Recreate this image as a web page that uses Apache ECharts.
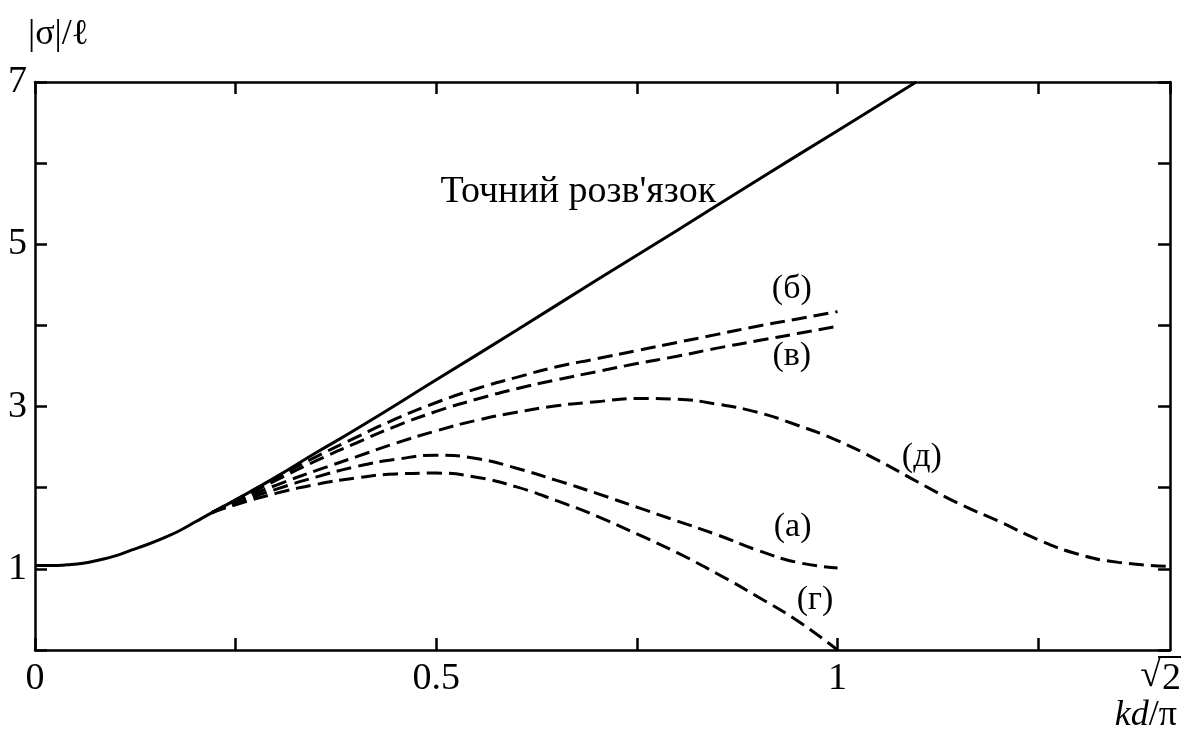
<!DOCTYPE html>
<html>
<head>
<meta charset="utf-8">
<script src="https://cdn.jsdelivr.net/npm/echarts@6/dist/echarts.min.js"></script>
<style>
  html, body { margin: 0; padding: 0; background: #fff; }
  #chart { width: 1185px; height: 735px; }
</style>
</head>
<body>
<div id="chart"></div>
<script>
const SQRT2 = Math.SQRT2;

// Exact solution |σ|/ℓ versus kd/π
const exactX = [0, 0.02, 0.04, 0.06, 0.08, 0.10, 0.12, 0.14, 0.16, 0.18, 0.20, 0.22, 0.25, 0.30, 0.35, 0.40, 0.50, 0.60, 0.70, 0.80, 0.90, 1.00, 1.098];
const exactY = [1.04, 1.04, 1.05, 1.07, 1.11, 1.16, 1.23, 1.30, 1.38, 1.47, 1.58, 1.69, 1.85, 2.13, 2.43, 2.72, 3.33, 3.94, 4.56, 5.17, 5.79, 6.40, 7.0];

// Approximations (а)–(г), defined for kd/π from 0.22 to 1
const approxX = [0.22, 0.25, 0.30, 0.35, 0.40, 0.45, 0.50, 0.55, 0.60, 0.65, 0.70, 0.75, 0.80, 0.85, 0.90, 0.95, 1.00];
const curveA  = [1.69, 1.81, 1.98, 2.13, 2.26, 2.35, 2.40, 2.36, 2.24, 2.09, 1.93, 1.76, 1.59, 1.42, 1.23, 1.08, 1.01];
const curveB  = [1.69, 1.85, 2.12, 2.38, 2.62, 2.85, 3.05, 3.22, 3.36, 3.49, 3.59, 3.69, 3.79, 3.89, 3.99, 4.08, 4.17];
const curveV  = [1.69, 1.84, 2.09, 2.33, 2.55, 2.76, 2.94, 3.09, 3.22, 3.33, 3.43, 3.53, 3.62, 3.72, 3.81, 3.90, 3.99];
const curveG  = [1.69, 1.79, 1.93, 2.04, 2.12, 2.17, 2.18, 2.13, 2.01, 1.84, 1.65, 1.43, 1.20, 0.94, 0.66, 0.36, 0.00];

// Approximation (д), defined up to kd/π = √2
const curveDX = [0.22, 0.25, 0.30, 0.35, 0.40, 0.45, 0.50, 0.55, 0.60, 0.65, 0.70, 0.75, 0.80, 0.85, 0.90, 0.95, 1.00, 1.05, 1.10, 1.15, 1.20, 1.25, 1.30, 1.35, SQRT2];
const curveDY = [1.69, 1.83, 2.03, 2.21, 2.38, 2.55, 2.70, 2.83, 2.93, 3.01, 3.06, 3.10, 3.09, 3.03, 2.93, 2.77, 2.58, 2.34, 2.07, 1.81, 1.59, 1.36, 1.18, 1.08, 1.03];

// Tick labels
const xLabelValues = [0, 0.5, 1];
const xLabelTexts = ['0', '0.5', '1'];
const yLabelValues = [1, 3, 5, 7];

// Curve captions, anchored in data coordinates
const captionTexts = ['Точний розв\'язок', '(б)', '(в)', '(а)', '(г)', '(д)'];
const captionX = [0.677, 0.943, 0.943, 0.944, 0.972, 1.105];
const captionY = [5.65, 4.45, 3.62, 1.52, 0.62, 2.38];

const FONT = '"Liberation Serif", "DejaVu Serif", serif';

function zip(xs, ys) { return xs.map((x, i) => [x, ys[i]]); }

const axisLineStyle = { color: '#000', width: 2.5 };
const tickStyle = { show: true, inside: true, length: 12, lineStyle: { color: '#000', width: 2.5 } };

function xLabel(v) {
  const i = xLabelValues.findIndex(t => Math.abs(t - v) < 1e-9);
  return i >= 0 ? xLabelTexts[i] : '';
}
function yLabel(v) {
  return yLabelValues.some(t => Math.abs(t - v) < 1e-9) ? String(v) : '';
}

const dashed = { color: '#000', width: 3, type: [15, 7] };

const chart = echarts.init(document.getElementById('chart'), null, { renderer: 'canvas' });

chart.setOption({
  animation: false,
  backgroundColor: '#fff',
  grid: { left: 35, right: 15, top: 82, bottom: 85, outerBoundsMode: 'none' },
  xAxis: [
    {
      type: 'value', min: 0, max: SQRT2, interval: 0.25, position: 'bottom',
      axisLine: { show: true, lineStyle: axisLineStyle },
      axisTick: tickStyle,
      splitLine: { show: false },
      axisLabel: {
        formatter: xLabel, showMaxLabel: false, showMinLabel: true,
        fontFamily: FONT, fontSize: 38, color: '#000', margin: 10
      }
    },
    {
      type: 'value', min: 0, max: SQRT2, interval: 0.25, position: 'top',
      axisLine: { show: true, onZero: false, lineStyle: axisLineStyle },
      axisTick: tickStyle,
      splitLine: { show: false },
      axisLabel: { show: false }
    }
  ],
  yAxis: [
    {
      type: 'value', min: 0, max: 7, interval: 1, position: 'left',
      axisLine: { show: true, onZero: false, lineStyle: axisLineStyle },
      axisTick: tickStyle,
      splitLine: { show: false },
      axisLabel: {
        formatter: yLabel, fontFamily: FONT, fontSize: 38, color: '#000', margin: 8
      }
    },
    {
      type: 'value', min: 0, max: 7, interval: 1, position: 'right',
      axisLine: { show: true, onZero: false, lineStyle: axisLineStyle },
      axisTick: tickStyle,
      splitLine: { show: false },
      axisLabel: { show: false }
    }
  ],
  series: [
    { name: 'exact', type: 'line', data: zip(exactX, exactY), smooth: 0.5, symbol: 'none', lineStyle: { color: '#000', width: 3 }, z: 3 },
    { name: 'а', type: 'line', data: zip(approxX, curveA), smooth: 0.5, symbol: 'none', lineStyle: dashed },
    { name: 'б', type: 'line', data: zip(approxX, curveB), smooth: 0.5, symbol: 'none', lineStyle: dashed },
    { name: 'в', type: 'line', data: zip(approxX, curveV), smooth: 0.5, symbol: 'none', lineStyle: dashed },
    { name: 'г', type: 'line', data: zip(approxX, curveG), smooth: 0.5, symbol: 'none', lineStyle: dashed },
    { name: 'д', type: 'line', data: zip(curveDX, curveDY), smooth: 0.5, symbol: 'none', lineStyle: dashed }
  ]
});

// Captions, axis titles and the √2 tick label placed through the grid's coordinate system
const graphics = captionTexts.map((t, i) => {
  const p = chart.convertToPixel({ gridIndex: 0 }, [captionX[i], captionY[i]]);
  return {
    type: 'text', x: p[0], y: p[1], silent: true,
    style: { text: t, fontFamily: FONT, fontSize: i === 0 ? 38 : 34, fill: '#000', align: 'center', verticalAlign: 'middle' }
  };
});

const origin = chart.convertToPixel({ gridIndex: 0 }, [0, 7]);
const corner = chart.convertToPixel({ gridIndex: 0 }, [SQRT2, 0]);

graphics.push({
  type: 'text', x: origin[0] - 7, y: origin[1] - 47, silent: true,
  style: { text: '|σ|/ℓ', fontFamily: FONT, fontSize: 36, fill: '#000', align: 'left', verticalAlign: 'middle' }
});
// √2 under the right end of the axis: radical sign, digit and vinculum
graphics.push({
  type: 'text', x: corner[0] + 11, y: corner[1] + 29, silent: true,
  style: { text: '2', fontFamily: FONT, fontSize: 38, fill: '#000', align: 'right', verticalAlign: 'middle' }
});
graphics.push({
  type: 'text', x: corner[0] - 9, y: corner[1] + 26, silent: true,
  style: { text: '√', fontFamily: FONT, fontSize: 38, fill: '#000', align: 'right', verticalAlign: 'middle' }
});
graphics.push({
  type: 'line', silent: true,
  shape: { x1: corner[0] - 12, y1: corner[1] + 7, x2: corner[0] + 11, y2: corner[1] + 7 },
  style: { stroke: '#000', lineWidth: 2 }
});
graphics.push({
  type: 'text', x: corner[0] + 7, y: corner[1] + 66, silent: true,
  style: {
    text: '{i|kd}/π', fontFamily: FONT, fontSize: 36, fill: '#000', align: 'right', verticalAlign: 'middle',
    rich: { i: { fontFamily: FONT, fontSize: 36, fontStyle: 'italic', fill: '#000' } }
  }
});

chart.setOption({ graphic: graphics });
</script>
</body>
</html>
